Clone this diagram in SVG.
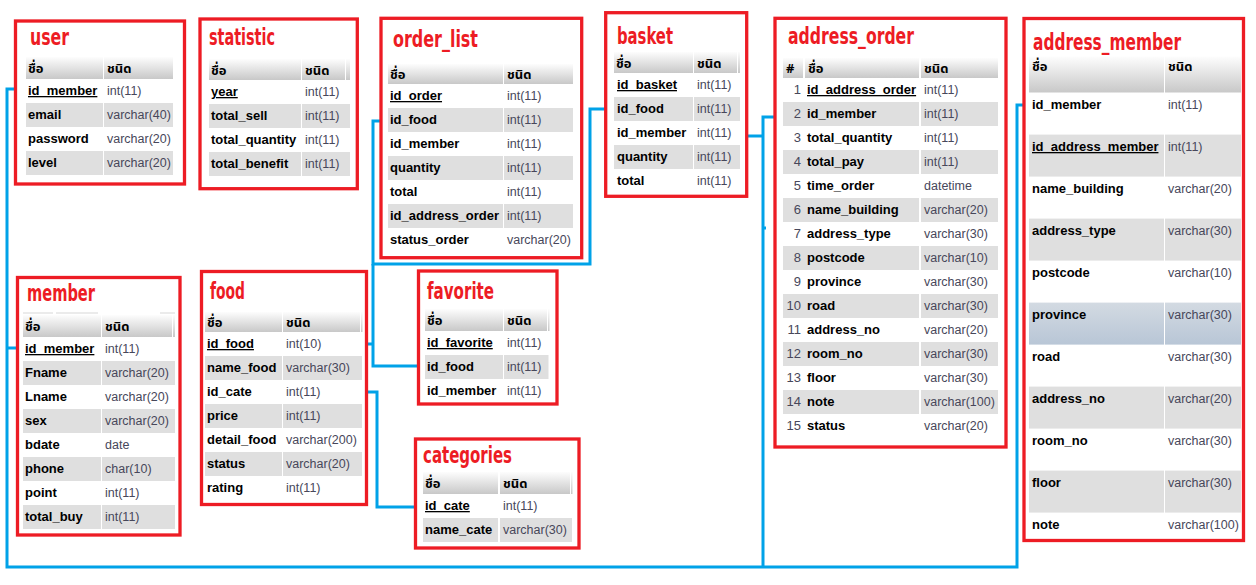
<svg xmlns="http://www.w3.org/2000/svg" width="1256" height="585" viewBox="0 0 1256 585">
<defs>
<linearGradient id="hg" x1="0" y1="0" x2="0" y2="1">
<stop offset="0" stop-color="#fdfdfd"/>
<stop offset="1" stop-color="#c8c8c8"/>
</linearGradient>
<linearGradient id="pg" x1="0" y1="0" x2="0" y2="1">
<stop offset="0" stop-color="#d3dae2"/>
<stop offset="1" stop-color="#b8c6d6"/>
</linearGradient>
</defs>
<style>
.box{fill:#fff;stroke:#ed1c24;stroke-width:3.3}
.title{font-family:"DejaVu Sans Condensed","DejaVu Sans",sans-serif;font-weight:bold;font-size:23px;fill:#ed1c24}
.h{fill:url(#hg)}
.g{fill:#dfdfdf}
.p{fill:url(#pg)}
.th{font-family:Tahoma,"Noto Sans Thai","Noto Sans","DejaVu Sans",sans-serif;font-weight:bold;font-size:13px;fill:#000}
.n{font-family:"Liberation Sans",Arial,sans-serif;font-weight:bold;font-size:13px;fill:#000}
.t{font-family:"Liberation Sans",Arial,sans-serif;font-size:12.5px;fill:#47475a}
.num{font-family:"Liberation Sans",Arial,sans-serif;font-size:13px;fill:#47475a;text-anchor:end}
.pk{text-decoration:underline}
.c{fill:none;stroke:#00a2e8;stroke-width:3}
</style>
<rect x="0" y="0" width="1256" height="585" fill="#fff"/>

<g id="connectors">
<path class="c" d="M25,89 H7 V567 H1017 V105 H1035"/>
<path class="c" d="M25,348 H7"/>
<path class="c" d="M791,117 H763 V567"/>
<path class="c" d="M738,136 H763"/>
<path class="c" d="M763,228 H766"/>
<path class="c" d="M388,121 H373 V264 H590 V109 H614"/>
<path class="c" d="M373,264 V366 H427 M353,344 H373"/>
<path class="c" d="M357,392 H377 V507 H425"/>
</g>

<g id="user">
<rect class="box" x="15.5" y="21" width="169" height="163"/>
<text class="title" x="30" y="45" textLength="39" lengthAdjust="spacingAndGlyphs">user</text>
<rect class="h" x="26" y="57" width="77" height="22"/><rect class="h" x="104" y="57" width="69" height="22"/>
<text class="th" x="28" y="73">ชื่อ</text><text class="th" x="107" y="73">ชนิด</text>
<rect class="g" x="26" y="103" width="77" height="24"/><rect class="g" x="104" y="103" width="69" height="24"/>
<rect class="g" x="26" y="151" width="77" height="24"/><rect class="g" x="104" y="151" width="69" height="24"/>
<text class="n pk" x="28" y="95">id_member</text><text class="t" x="107" y="95">int(11)</text>
<text class="n" x="28" y="119">email</text><text class="t" x="107" y="119">varchar(40)</text>
<text class="n" x="28" y="143">password</text><text class="t" x="107" y="143">varchar(20)</text>
<text class="n" x="28" y="167">level</text><text class="t" x="107" y="167">varchar(20)</text>
</g>

<g id="statistic">
<rect class="box" x="200" y="19" width="157.3" height="169.7"/>
<text class="title" x="209" y="45" textLength="66" lengthAdjust="spacingAndGlyphs">statistic</text>
<rect class="h" x="209" y="59" width="92" height="21"/><rect class="h" x="302" y="59" width="43" height="21"/><rect class="h" x="346" y="59" width="4" height="21"/>
<text class="th" x="211" y="75">ชื่อ</text><text class="th" x="305" y="75">ชนิด</text>
<rect class="g" x="209" y="104" width="92" height="24"/><rect class="g" x="302" y="104" width="48" height="24"/>
<rect class="g" x="209" y="152" width="92" height="24"/><rect class="g" x="302" y="152" width="48" height="24"/>
<text class="n pk" x="211" y="96">year</text><text class="t" x="305" y="96">int(11)</text>
<text class="n" x="211" y="120">total_sell</text><text class="t" x="305" y="120">int(11)</text>
<text class="n" x="211" y="144">total_quantity</text><text class="t" x="305" y="144">int(11)</text>
<text class="n" x="211" y="168">total_benefit</text><text class="t" x="305" y="168">int(11)</text>
</g>

<g id="order_list">
<rect class="box" x="381" y="18.3" width="200.7" height="239.4"/>
<text class="title" x="393" y="47" textLength="85" lengthAdjust="spacingAndGlyphs">order_list</text>
<rect class="h" x="388" y="64" width="115" height="20"/><rect class="h" x="504" y="64" width="69" height="20"/>
<text class="th" x="390" y="79">ชื่อ</text><text class="th" x="507" y="79">ชนิด</text>
<rect class="g" x="388" y="108" width="115" height="24"/><rect class="g" x="504" y="108" width="69" height="24"/>
<rect class="g" x="388" y="156" width="115" height="24"/><rect class="g" x="504" y="156" width="69" height="24"/>
<rect class="g" x="388" y="204" width="115" height="24"/><rect class="g" x="504" y="204" width="69" height="24"/>
<text class="n pk" x="390" y="100">id_order</text><text class="t" x="507" y="100">int(11)</text>
<text class="n" x="390" y="124">id_food</text><text class="t" x="507" y="124">int(11)</text>
<text class="n" x="390" y="148">id_member</text><text class="t" x="507" y="148">int(11)</text>
<text class="n" x="390" y="172">quantity</text><text class="t" x="507" y="172">int(11)</text>
<text class="n" x="390" y="196">total</text><text class="t" x="507" y="196">int(11)</text>
<text class="n" x="390" y="220">id_address_order</text><text class="t" x="507" y="220">int(11)</text>
<text class="n" x="390" y="244">status_order</text><text class="t" x="507" y="244">varchar(20)</text>
</g>

<g id="basket">
<rect class="box" x="605.7" y="12.7" width="141" height="183.6"/>
<text class="title" x="617" y="44" textLength="56" lengthAdjust="spacingAndGlyphs">basket</text>
<rect class="h" x="614" y="52" width="79" height="21"/><rect class="h" x="694" y="52" width="43" height="21"/><rect class="h" x="738" y="52" width="2" height="21"/>
<text class="th" x="616" y="68">ชื่อ</text><text class="th" x="697" y="68">ชนิด</text>
<rect class="g" x="614" y="97" width="79" height="24"/><rect class="g" x="694" y="97" width="46" height="24"/>
<rect class="g" x="614" y="145" width="79" height="24"/><rect class="g" x="694" y="145" width="46" height="24"/>
<text class="n pk" x="617" y="89">id_basket</text><text class="t" x="697" y="89">int(11)</text>
<text class="n" x="617" y="113">id_food</text><text class="t" x="697" y="113">int(11)</text>
<text class="n" x="617" y="137">id_member</text><text class="t" x="697" y="137">int(11)</text>
<text class="n" x="617" y="161">quantity</text><text class="t" x="697" y="161">int(11)</text>
<text class="n" x="617" y="185">total</text><text class="t" x="697" y="185">int(11)</text>
</g>

<g id="address_order">
<rect class="box" x="775" y="18.3" width="231" height="428.7"/>
<text class="title" x="788" y="44" textLength="126" lengthAdjust="spacingAndGlyphs">address_order</text>
<rect class="h" x="783" y="58" width="20" height="20"/><rect class="h" x="805" y="58" width="114" height="20"/><rect class="h" x="921" y="58" width="77" height="20"/>
<text class="th" x="786" y="73">#</text><text class="th" x="808" y="73">ชื่อ</text><text class="th" x="924" y="73">ชนิด</text>
<rect class="g" x="783" y="102" width="136" height="24"/><rect class="g" x="921" y="102" width="77" height="24"/>
<rect class="g" x="783" y="150" width="136" height="24"/><rect class="g" x="921" y="150" width="77" height="24"/>
<rect class="g" x="783" y="198" width="136" height="24"/><rect class="g" x="921" y="198" width="77" height="24"/>
<rect class="g" x="783" y="246" width="136" height="24"/><rect class="g" x="921" y="246" width="77" height="24"/>
<rect class="g" x="783" y="294" width="136" height="24"/><rect class="g" x="921" y="294" width="77" height="24"/>
<rect class="g" x="783" y="342" width="136" height="24"/><rect class="g" x="921" y="342" width="77" height="24"/>
<rect class="g" x="783" y="390" width="136" height="24"/><rect class="g" x="921" y="390" width="77" height="24"/>
<text class="num" x="801" y="94">1</text><text class="n pk" x="807" y="94">id_address_order</text><text class="t" x="924" y="94">int(11)</text>
<text class="num" x="801" y="118">2</text><text class="n" x="807" y="118">id_member</text><text class="t" x="924" y="118">int(11)</text>
<text class="num" x="801" y="142">3</text><text class="n" x="807" y="142">total_quantity</text><text class="t" x="924" y="142">int(11)</text>
<text class="num" x="801" y="166">4</text><text class="n" x="807" y="166">total_pay</text><text class="t" x="924" y="166">int(11)</text>
<text class="num" x="801" y="190">5</text><text class="n" x="807" y="190">time_order</text><text class="t" x="924" y="190">datetime</text>
<text class="num" x="801" y="214">6</text><text class="n" x="807" y="214">name_building</text><text class="t" x="924" y="214">varchar(20)</text>
<text class="num" x="801" y="238">7</text><text class="n" x="807" y="238">address_type</text><text class="t" x="924" y="238">varchar(30)</text>
<text class="num" x="801" y="262">8</text><text class="n" x="807" y="262">postcode</text><text class="t" x="924" y="262">varchar(10)</text>
<text class="num" x="801" y="286">9</text><text class="n" x="807" y="286">province</text><text class="t" x="924" y="286">varchar(30)</text>
<text class="num" x="801" y="310">10</text><text class="n" x="807" y="310">road</text><text class="t" x="924" y="310">varchar(30)</text>
<text class="num" x="801" y="334">11</text><text class="n" x="807" y="334">address_no</text><text class="t" x="924" y="334">varchar(20)</text>
<text class="num" x="801" y="358">12</text><text class="n" x="807" y="358">room_no</text><text class="t" x="924" y="358">varchar(30)</text>
<text class="num" x="801" y="382">13</text><text class="n" x="807" y="382">floor</text><text class="t" x="924" y="382">varchar(30)</text>
<text class="num" x="801" y="406">14</text><text class="n" x="807" y="406">note</text><text class="t" x="924" y="406">varchar(100)</text>
<text class="num" x="801" y="430">15</text><text class="n" x="807" y="430">status</text><text class="t" x="924" y="430">varchar(20)</text>
</g>

<g id="address_member">
<rect class="box" x="1024" y="18.5" width="219.5" height="522"/>
<text class="title" x="1033" y="50" textLength="148" lengthAdjust="spacingAndGlyphs">address_member</text>
<rect class="h" x="1029" y="56.5" width="135" height="36"/><rect class="h" x="1165" y="56.5" width="76" height="36"/>
<text class="th" x="1032" y="71">ชื่อ</text><text class="th" x="1168" y="71">ชนิด</text>
<rect class="g" x="1029" y="134.6" width="135" height="42"/><rect class="g" x="1165" y="134.6" width="76" height="42"/>
<rect class="g" x="1029" y="218.6" width="135" height="42"/><rect class="g" x="1165" y="218.6" width="76" height="42"/>
<rect class="p" x="1029" y="302.6" width="135" height="42"/><rect class="p" x="1165" y="302.6" width="76" height="42"/>
<rect class="g" x="1029" y="386.6" width="135" height="42"/><rect class="g" x="1165" y="386.6" width="76" height="42"/>
<rect class="g" x="1029" y="470.6" width="135" height="42"/><rect class="g" x="1165" y="470.6" width="76" height="42"/>
<text class="n" x="1032" y="109">id_member</text><text class="t" x="1168" y="109">int(11)</text>
<text class="n pk" x="1032" y="151">id_address_member</text><text class="t" x="1168" y="151">int(11)</text>
<text class="n" x="1032" y="193">name_building</text><text class="t" x="1168" y="193">varchar(20)</text>
<text class="n" x="1032" y="235">address_type</text><text class="t" x="1168" y="235">varchar(30)</text>
<text class="n" x="1032" y="277">postcode</text><text class="t" x="1168" y="277">varchar(10)</text>
<text class="n" x="1032" y="319">province</text><text class="t" x="1168" y="319">varchar(30)</text>
<text class="n" x="1032" y="361">road</text><text class="t" x="1168" y="361">varchar(30)</text>
<text class="n" x="1032" y="403">address_no</text><text class="t" x="1168" y="403">varchar(20)</text>
<text class="n" x="1032" y="445">room_no</text><text class="t" x="1168" y="445">varchar(30)</text>
<text class="n" x="1032" y="487">floor</text><text class="t" x="1168" y="487">varchar(30)</text>
<text class="n" x="1032" y="529">note</text><text class="t" x="1168" y="529">varchar(100)</text>
</g>

<g id="member">
<rect class="box" x="17.5" y="277.5" width="162.5" height="257.5"/>
<text class="title" x="27" y="301" textLength="68" lengthAdjust="spacingAndGlyphs">member</text>
<rect fill="#d8d8d8" x="23" y="312.5" width="30" height="1"/><rect fill="#d8d8d8" x="56" y="312.5" width="42" height="1"/><rect fill="#d8d8d8" x="160" y="312.5" width="15" height="1"/>
<rect class="h" x="23" y="315" width="78" height="22"/><rect class="h" x="102" y="315" width="70" height="22"/><rect class="h" x="173" y="315" width="2" height="22"/>
<text class="th" x="25" y="331">ชื่อ</text><text class="th" x="105" y="331">ชนิด</text>
<rect class="g" x="23" y="361" width="78" height="24"/><rect class="g" x="102" y="361" width="73" height="24"/>
<rect class="g" x="23" y="409" width="78" height="24"/><rect class="g" x="102" y="409" width="73" height="24"/>
<rect class="g" x="23" y="457" width="78" height="24"/><rect class="g" x="102" y="457" width="73" height="24"/>
<rect class="g" x="23" y="505" width="78" height="24"/><rect class="g" x="102" y="505" width="73" height="24"/>
<text class="n pk" x="25" y="353">id_member</text><text class="t" x="105" y="353">int(11)</text>
<text class="n" x="25" y="377">Fname</text><text class="t" x="105" y="377">varchar(20)</text>
<text class="n" x="25" y="401">Lname</text><text class="t" x="105" y="401">varchar(20)</text>
<text class="n" x="25" y="425">sex</text><text class="t" x="105" y="425">varchar(20)</text>
<text class="n" x="25" y="449">bdate</text><text class="t" x="105" y="449">date</text>
<text class="n" x="25" y="473">phone</text><text class="t" x="105" y="473">char(10)</text>
<text class="n" x="25" y="497">point</text><text class="t" x="105" y="497">int(11)</text>
<text class="n" x="25" y="521">total_buy</text><text class="t" x="105" y="521">int(11)</text>
</g>

<g id="food">
<rect class="box" x="201.5" y="271.5" width="165" height="233"/>
<text class="title" x="210" y="299" textLength="35" lengthAdjust="spacingAndGlyphs">food</text>
<rect class="h" x="205" y="312" width="77" height="20"/><rect class="h" x="283" y="312" width="77" height="20"/><rect class="h" x="361" y="312" width="1.5" height="20"/>
<text class="th" x="207" y="327">ชื่อ</text><text class="th" x="286" y="327">ชนิด</text>
<rect class="g" x="205" y="356" width="77" height="24"/><rect class="g" x="283" y="356" width="79" height="24"/>
<rect class="g" x="205" y="404" width="77" height="24"/><rect class="g" x="283" y="404" width="79" height="24"/>
<rect class="g" x="205" y="452" width="77" height="24"/><rect class="g" x="283" y="452" width="79" height="24"/>
<text class="n pk" x="207" y="348">id_food</text><text class="t" x="286" y="348">int(10)</text>
<text class="n" x="207" y="372">name_food</text><text class="t" x="286" y="372">varchar(30)</text>
<text class="n" x="207" y="396">id_cate</text><text class="t" x="286" y="396">int(11)</text>
<text class="n" x="207" y="420">price</text><text class="t" x="286" y="420">int(11)</text>
<text class="n" x="207" y="444">detail_food</text><text class="t" x="286" y="444">varchar(200)</text>
<text class="n" x="207" y="468">status</text><text class="t" x="286" y="468">varchar(20)</text>
<text class="n" x="207" y="492">rating</text><text class="t" x="286" y="492">int(11)</text>
</g>

<g id="favorite">
<rect class="box" x="418.5" y="271" width="138.5" height="133"/>
<text class="title" x="427" y="299" textLength="67" lengthAdjust="spacingAndGlyphs">favorite</text>
<rect class="h" x="425" y="309" width="78" height="22"/><rect class="h" x="504" y="309" width="43" height="22"/><rect class="h" x="548" y="309" width="1.5" height="22"/>
<text class="th" x="427" y="325">ชื่อ</text><text class="th" x="507" y="325">ชนิด</text>
<rect class="g" x="425" y="355" width="78" height="24"/><rect class="g" x="504" y="355" width="44.5" height="24"/>
<text class="n pk" x="427" y="347">id_favorite</text><text class="t" x="507" y="347">int(11)</text>
<text class="n" x="427" y="371">id_food</text><text class="t" x="507" y="371">int(11)</text>
<text class="n" x="427" y="395">id_member</text><text class="t" x="507" y="395">int(11)</text>
</g>

<g id="categories">
<rect class="box" x="415.5" y="439" width="163.5" height="109"/>
<text class="title" x="423" y="463" textLength="89" lengthAdjust="spacingAndGlyphs">categories</text>
<rect class="h" x="423" y="472" width="75" height="22"/><rect class="h" x="500" y="472" width="70" height="22"/><rect class="h" x="571" y="472" width="1.5" height="22"/>
<text class="th" x="425" y="488">ชื่อ</text><text class="th" x="503" y="488">ชนิด</text>
<rect class="g" x="423" y="518" width="75" height="24"/><rect class="g" x="500" y="518" width="72" height="24"/>
<text class="n pk" x="425" y="510">id_cate</text><text class="t" x="503" y="510">int(11)</text>
<text class="n" x="425" y="534">name_cate</text><text class="t" x="503" y="534">varchar(30)</text>
</g>
</svg>
